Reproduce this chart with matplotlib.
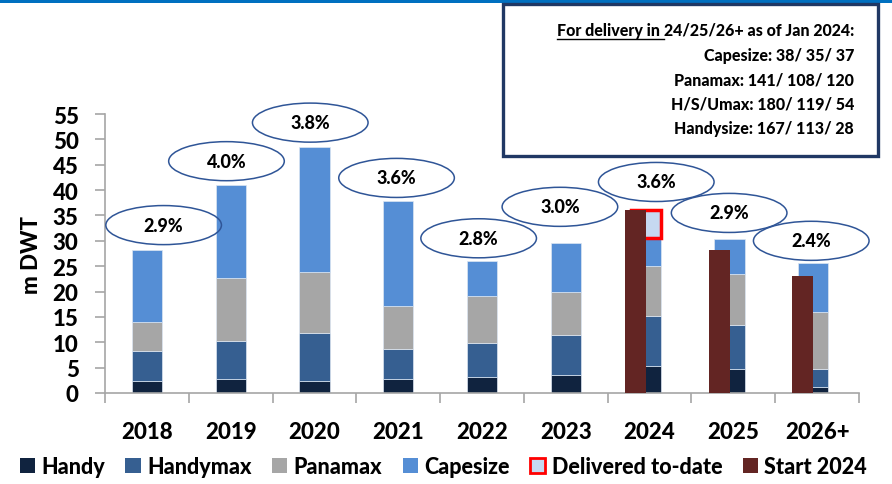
import numpy as np
import matplotlib
matplotlib.use('Agg')
import matplotlib.pyplot as plt
from matplotlib.patches import Ellipse, Rectangle, Patch
from matplotlib.lines import Line2D

# --------------------------------------------------------------------------- #
# Data (m DWT).
years = ['2018', '2019', '2020', '2021', '2022', '2023', '2024', '2025', '2026+']
handy = [2.4, 2.8, 2.4, 2.8, 3.2, 3.6, 5.3, 4.7, 1.1]
handymax = [5.9, 7.5, 9.5, 5.9, 6.7, 7.9, 9.8, 8.8, 3.6]
panamax = [5.7, 12.3, 11.9, 8.4, 9.2, 8.4, 9.9, 9.9, 11.2]
capesize = [14.1, 18.4, 24.7, 20.8, 7.0, 9.7, 5.6, 7.0, 9.7]
delivered = [0, 0, 0, 0, 0, 0, 5.4, 0, 0]
start_2024 = [0, 0, 0, 0, 0, 0, 36.0, 28.1, 23.0]
growth = ['2.9%', '4.0%', '3.8%', '3.6%', '2.8%', '3.0%', '3.6%', '2.9%', '2.4%']
growth_y = [33.1, 45.7, 53.3, 42.4, 30.5, 36.7, 41.6, 35.5, 30.0]
growth_dx = [0.2, -0.05, -0.05, -0.02, -0.04, -0.07, 0.08, -0.05, -0.07]

box_lines = ['Capesize: 38/ 35/ 37', 'Panamax: 141/ 108/ 120',
             'H/S/Umax: 180/ 119/ 54', 'Handysize: 167/ 113/ 28']

# Colours.
c_handy = '#10233F'
c_handymax = '#365F91'
c_panamax = '#A6A6A6'
c_cape = '#558ED5'
c_deliv = '#C6D9F1'
c_start = '#632523'

plt.rcParams['font.family'] = ['Lato', 'DejaVu Sans']
FW = 'black'

# --------------------------------------------------------------------------- #
fig = plt.figure(figsize=(8.92, 4.85), dpi=100)
ax = fig.add_axes([105/892., 1 - 394/485., 754/892., 279/485.])

x = np.arange(len(years))
future = np.array(start_2024) > 0
xs = x - 0.045 * future
w = 0.36

bottom = np.zeros(len(years))
for vals, col in [(handy, c_handy), (handymax, c_handymax),
                  (panamax, c_panamax), (capesize, c_cape)]:
    ax.bar(xs, vals, w, bottom=bottom, color=col, edgecolor='#DCE6F2',
           linewidth=0.5, zorder=2)
    bottom += np.array(vals)

# Delivered to-date sits on top of the 2024 stack.
d = np.array(delivered)
ax.bar(xs[d > 0], d[d > 0], w, bottom=bottom[d > 0], color=c_deliv,
       edgecolor='#FF0000', linewidth=2.5, zorder=2)

# Orderbook at start 2024 bars.
s = np.array(start_2024)
ax.bar(x[future] - 0.17, s[future], 0.25, color=c_start, zorder=3)

# Growth rate ellipses.
for i, lab in enumerate(growth):
    cx = x[i] + growth_dx[i]
    ax.add_patch(Ellipse((cx, growth_y[i]), 1.38, 7.7, facecolor='none',
                         edgecolor='#2F5597', linewidth=1.1, clip_on=False,
                         zorder=4))
    ax.text(cx, growth_y[i], lab, ha='center', va='center', fontsize=13,
            fontweight=FW, zorder=5)

# Axes styling.
ax.set_xlim(-0.5, len(years) - 0.5)
ax.set_ylim(0, 55)
ax.set_yticks(np.arange(0, 56, 5))
ax.set_xticks(x)
ax.set_xticklabels(years, fontsize=16, fontweight=FW)
ax.set_xticks(np.arange(-0.5, len(years)), minor=True)
ax.tick_params(axis='x', which='major', length=0, pad=20)
ax.tick_params(axis='x', which='minor', length=7, color='#A6A6A6', width=1.2)
ax.tick_params(axis='y', length=7, color='#A6A6A6', width=1.2,
               labelsize=16, pad=12)
for lab in ax.get_yticklabels():
    lab.set_fontweight(FW)
for sp in ['top', 'right']:
    ax.spines[sp].set_visible(False)
for sp in ['left', 'bottom']:
    ax.spines[sp].set_color('#A6A6A6')
    ax.spines[sp].set_linewidth(1.2)
ax.set_ylabel('m DWT', fontsize=16, fontweight=FW, labelpad=8)

# Blue strip across the top.
fig.add_artist(Rectangle((0, 1 - 4/485.), 1, 4/485., transform=fig.transFigure,
                         facecolor='#0070C0', edgecolor='none'))

# Orderbook text box.
fig.add_artist(Rectangle((503/892., 1 - 157/485.), 375/892., 152/485.,
                         transform=fig.transFigure, facecolor='white',
                         edgecolor='#203864', linewidth=2.4))
xr = 854/892.
fs_box = 11.5
t1 = fig.text(xr, 1 - 31/485., '24/25/26+ as of Jan 2024:', ha='right',
              va='center', fontsize=fs_box, fontweight=FW)
fig.canvas.draw()
bb = t1.get_window_extent()
t0 = fig.text(bb.x0 / fig.bbox.width, 1 - 31/485., 'For delivery in ',
              ha='right', va='center', fontsize=fs_box, fontweight=FW)
fig.canvas.draw()
b0 = t0.get_window_extent()
fig.add_artist(Line2D([b0.x0 / fig.bbox.width, b0.x1 / fig.bbox.width],
                      [(b0.y0 - 1) / fig.bbox.height] * 2,
                      transform=fig.transFigure, color='black', linewidth=1))
for i, line in enumerate(box_lines):
    fig.text(xr, 1 - (56 + 24.5 * i)/485., line, ha='right', va='center',
             fontsize=fs_box, fontweight=FW)

# Legend.
handles = [Patch(facecolor=c_handy), Patch(facecolor=c_handymax),
           Patch(facecolor=c_panamax), Patch(facecolor=c_cape),
           Patch(facecolor=c_deliv, edgecolor='#FF0000', linewidth=2),
           Patch(facecolor=c_start)]
labels = ['Handy', 'Handymax', 'Panamax', 'Capesize', 'Delivered to-date',
          'Start 2024']
fig.legend(handles, labels, loc='lower center', bbox_to_anchor=(0.497, -0.025),
           ncol=6, frameon=False, handlelength=0.7, handleheight=0.7,
           handletextpad=0.3, columnspacing=0.95,
           prop={'size': 15.5, 'weight': FW})

plt.savefig('out.png', dpi=100)
